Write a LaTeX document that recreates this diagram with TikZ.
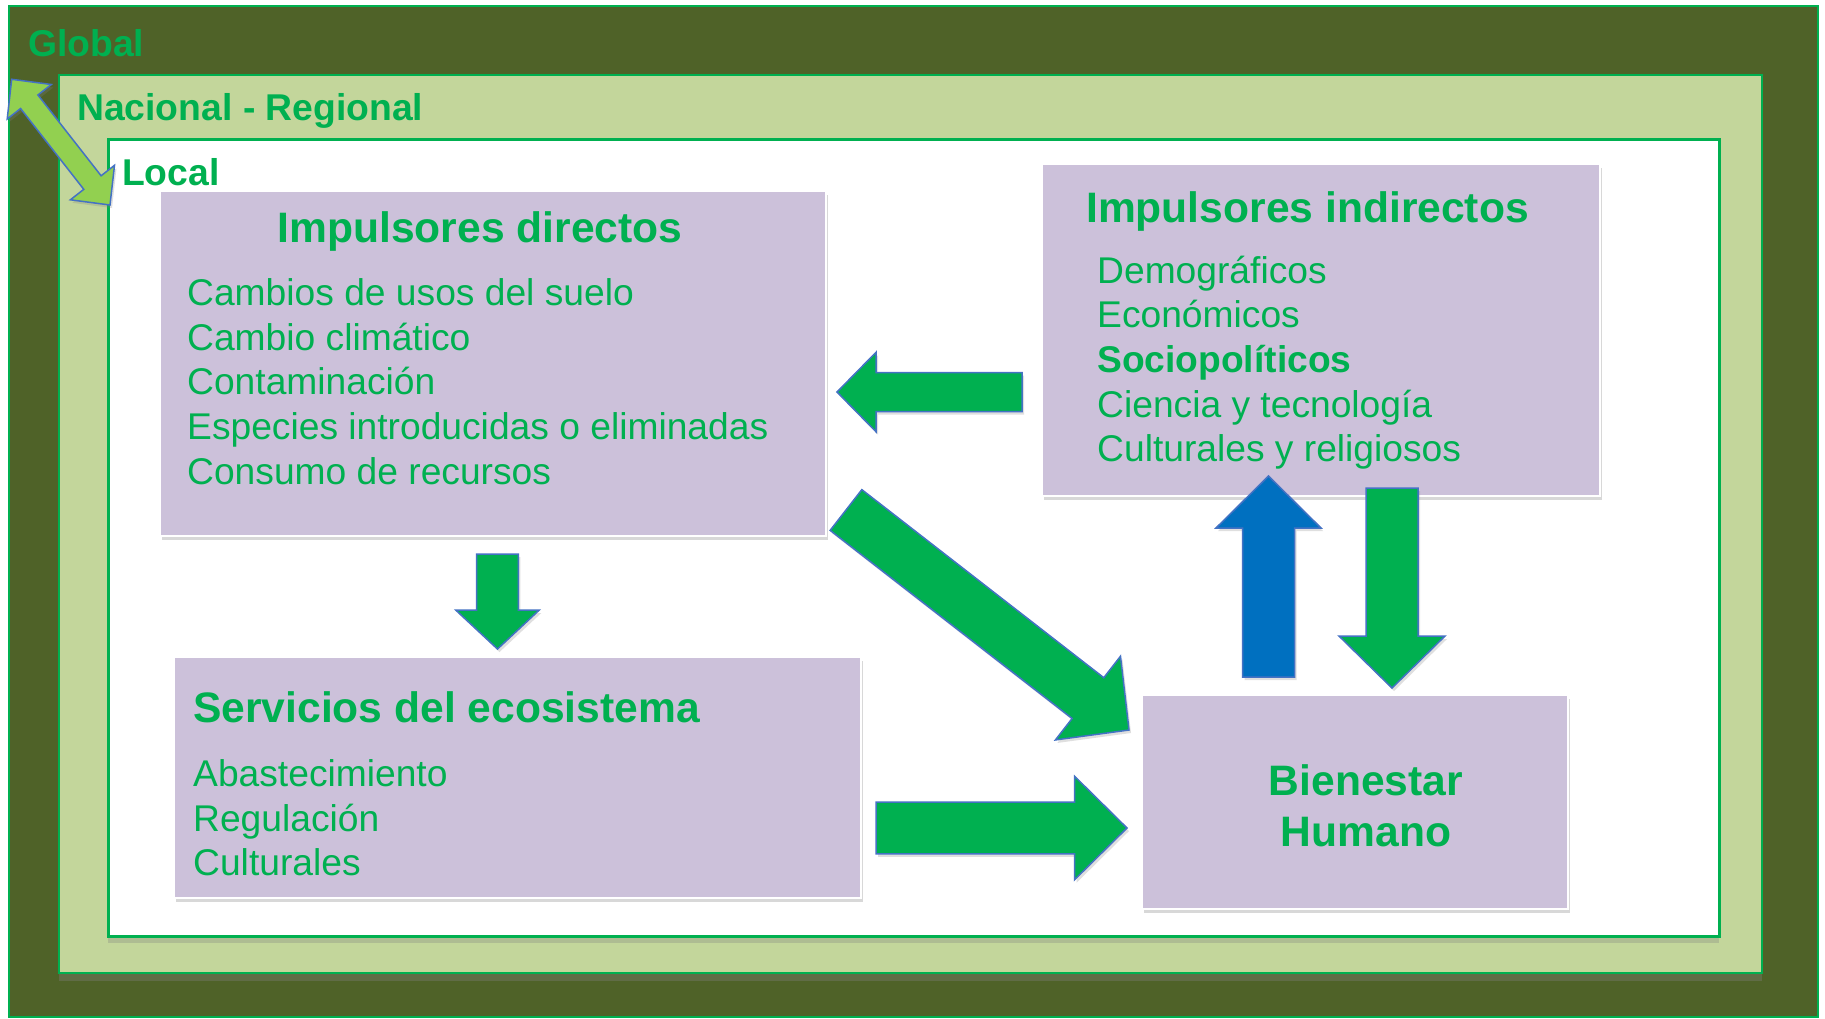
\documentclass[tikz,border=0pt]{standalone}
\usepackage{fontspec}
\setmainfont{Liberation Sans}
\usetikzlibrary{calc, shadows}

\definecolor{verde}{HTML}{00B050}
\definecolor{fondoglobal}{HTML}{4F6228}
\definecolor{fondonac}{HTML}{C3D69B}
\definecolor{lila}{HTML}{CCC1DA}
\definecolor{borde}{HTML}{4472C4}
\definecolor{azul}{HTML}{0070C0}
\definecolor{verdeclaro}{HTML}{92D050}

\tikzset{
  caja/.style={rectangle, fill=lila, draw=white, line width=1.5pt, anchor=north west, inner sep=0pt,
    drop shadow={opacity=0.3, shadow xshift=2pt, shadow yshift=-4pt}},
  titulo/.style={font=\fontsize{42.6}{51}\selectfont\bfseries, text=verde, inner sep=0pt},
  lista/.style={font=\fontsize{37.2}{44.6}\selectfont, text=verde, inner sep=0pt, align=left, anchor=base west},
  nivel/.style={font=\fontsize{37.3}{44}\selectfont\bfseries, text=verde, inner sep=0pt, anchor=base west},
  gorda/.style={fill=verde, draw=borde, line width=1.5pt, line join=miter,
    drop shadow={opacity=0.25, shadow xshift=2pt, shadow yshift=-3pt}},
}

% flecha de bloque: {inicio}{punta}{medio ancho cuerpo}{medio ancho cabeza}{largo cabeza}{estilo}
\newcommand{\flechagorda}[6]{%
  \coordinate (bk) at ($(#2)!#5!(#1)$);
  \path[#6] ($(#1)!#3!90:(#2)$) -- ($(bk)!#3!90:(#2)$) -- ($(bk)!#4!90:(#2)$) -- (#2)
    -- ($(bk)!#4!-90:(#2)$) -- ($(bk)!#3!-90:(#2)$) -- ($(#1)!#3!-90:(#2)$) -- cycle;}

% flecha doble
\newcommand{\flechadoble}[6]{%
  \coordinate (dk1) at ($(#1)!#5!(#2)$);
  \coordinate (dk2) at ($(#2)!#5!(#1)$);
  \path[#6] (#1) -- ($(dk1)!#4!90:(#2)$) -- ($(dk1)!#3!90:(#2)$) -- ($(dk2)!#3!90:(#2)$)
    -- ($(dk2)!#4!90:(#2)$) -- (#2) -- ($(dk2)!#4!-90:(#2)$) -- ($(dk2)!#3!-90:(#2)$)
    -- ($(dk1)!#3!-90:(#2)$) -- ($(dk1)!#4!-90:(#2)$) -- cycle;}

\begin{document}
\begin{tikzpicture}[x=1pt, y=-1pt]
		\useasboundingbox (0,0) rectangle (1825,1018);
		% niveles
		\draw[fill=fondoglobal, draw=verde, line width=1.5pt] (9,6) rectangle (1818,1017);
		\draw[fill=fondonac, draw=verde, line width=2.5pt,
		  drop shadow={opacity=0.35, shadow xshift=0pt, shadow yshift=-8pt}] (59,75) rectangle (1762,973);
		\draw[fill=white, draw=verde, line width=3pt,
		  drop shadow={opacity=0.3, shadow xshift=0pt, shadow yshift=-7pt}] (108,139) rectangle (1719,936);
		\node at (28,56) [nivel] (glo) {Global};
		\node at (77,120) [nivel] (nac) {Nacional - Regional};
		\node at (122,185) [nivel] (loc) {Local};
		\coordinate (glo1) at (11.7,79.3);
		\coordinate (loc1) at (110,205);
		\flechadoble{glo1}{loc1}{11pt}{28pt}{28.5pt}{gorda, fill=verdeclaro}

		% cajas
		\node at (159,190) [caja, minimum width=666pt, minimum height=345pt] (dir100) {};
		\node at (1041,163) [caja, minimum width=558pt, minimum height=332pt] (ind100) {};
		\node at (173,656) [caja, minimum width=687pt, minimum height=241pt] (serv100) {};
		\node at (1141,694) [caja, minimum width=426pt, minimum height=214pt] (bien100) {};

		\node at (480,242) [titulo, anchor=base] (dirt) {Impulsores directos};
		\node at (187,484) [lista] (dirl) {Cambios de usos del suelo\\Cambio climático\\Contaminación\\Especies introducidas o eliminadas\\Consumo de recursos};
		\node at (1086,222.7) [titulo, anchor=base west] (indt) {Impulsores indirectos};
		\node at (1097,461.7) [lista] (indl) {Demográficos\\Económicos\\\textbf{Sociopolíticos}\\Ciencia y tecnología\\Culturales y religiosos};
		\node at (193,722.7) [titulo, anchor=base west] (servt) {Servicios del ecosistema};
		\node at (193,875.7) [lista] (servl) {Abastecimiento\\Regulación\\Culturales};
		\node at (1366,846.7) [titulo, align=center, anchor=base] (bient) {Bienestar\\Humano};

		% flechas
		\coordinate (a1) at (1022,392);   \coordinate (a2) at (837,392);
		\coordinate (b1) at (846,510);    \coordinate (b2) at (1129,730);
		\coordinate (c1) at (497.5,554);  \coordinate (c2) at (497.5,649);
		\coordinate (d1) at (876,828);    \coordinate (d2) at (1127,828);
		\coordinate (e1) at (1268.5,677); \coordinate (e2) at (1268.5,476);
		\coordinate (f1) at (1392,488);   \coordinate (f2) at (1392,688);
		\flechagorda{a1}{a2}{19.5pt}{39.7pt}{39pt}{gorda}
		\flechagorda{b1}{b2}{25.8pt}{53pt}{52pt}{gorda}
		\flechagorda{c1}{c2}{20.8pt}{41.8pt}{39pt}{gorda}
		\flechagorda{d1}{d2}{25.8pt}{51.7pt}{52.4pt}{gorda}
		\flechagorda{e1}{e2}{26pt}{52.5pt}{52pt}{gorda, fill=azul}
		\flechagorda{f1}{f2}{26pt}{53pt}{52pt}{gorda}
		\end{tikzpicture}
\end{document}
